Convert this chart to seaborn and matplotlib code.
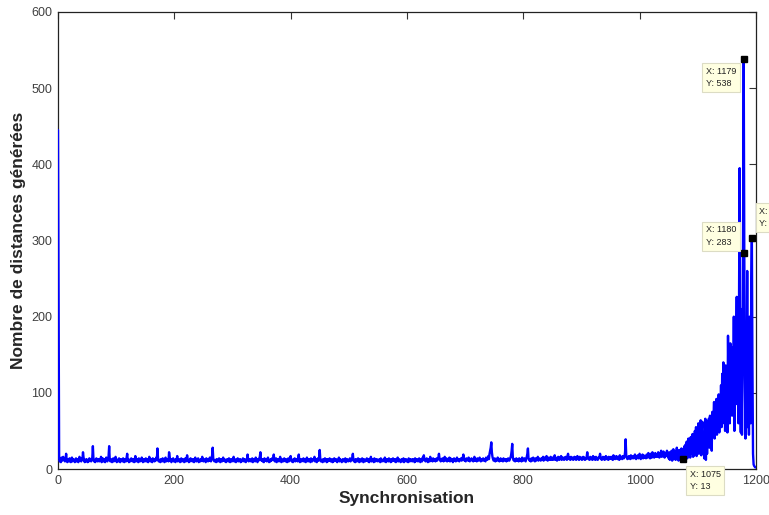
import numpy as np
import pandas as pd
import seaborn as sns
import matplotlib.pyplot as plt

sns.set_style("white")
plt.rcParams['font.family'] = ['Liberation Sans', 'DejaVu Sans']

# --- data ---
head = [445, 225, 14, 10, 12, 9, 15, 11, 13, 16]          # x = 0..9

baseline = [                                                # x = 10..1049
    13, 11, 10, 12, 20, 11, 9, 13, 12, 10, 14, 11, 9, 12, 15, 10, 13, 11, 12, 9,
    12, 14, 10, 11, 13, 9, 12, 16, 11, 13, 10, 14, 12, 22, 15, 11, 9, 12, 10, 13,
    11, 9, 12, 10, 14, 11, 13, 10, 12, 15, 30, 13, 10, 12, 9, 11, 14, 12, 10, 13,
    12, 10, 13, 11, 16, 9, 12, 14, 10, 11, 13, 9, 12, 15, 11, 10, 13, 17, 30, 12,
    10, 13, 11, 9, 12, 14, 10, 12, 11, 16, 13, 9, 11, 12, 10, 14, 12, 9, 13, 11,
    12, 10, 14, 11, 9, 13, 12, 10, 15, 20, 11, 13, 9, 12, 10, 11, 14, 12, 10, 13,
    11, 9, 12, 17, 10, 13, 11, 12, 9, 14, 12, 10, 13, 11, 15, 12, 9, 11, 13, 10,
    12, 14, 10, 11, 13, 9, 12, 16, 11, 10, 13, 12, 9, 14, 11, 12, 10, 13, 11, 15,
    12, 27, 14, 10, 12, 11, 9, 13, 12, 10, 14, 11, 12, 9, 13, 15, 10, 12, 11, 13,
    10, 22, 16, 11, 12, 9, 13, 11, 14, 10, 12, 11, 9, 13, 12, 17, 10, 11, 13, 12,
    9, 12, 14, 10, 11, 13, 12, 9, 11, 14, 10, 12, 18, 13, 11, 9, 12, 10, 14, 11,
    12, 10, 13, 11, 9, 12, 15, 11, 10, 13, 12, 14, 9, 11, 12, 10, 13, 11, 16, 12,
    10, 13, 11, 12, 9, 14, 11, 12, 10, 13, 11, 15, 12, 10, 14, 18, 28, 13, 11, 10,
    12, 11, 9, 13, 12, 10, 11, 14, 12, 9, 13, 11, 10, 12, 15, 11, 13, 10, 12, 9,
    11, 13, 12, 10, 14, 11, 9, 12, 13, 10, 11, 12, 16, 10, 13, 11, 9, 12, 11, 14,
    10, 12, 11, 13, 9, 12, 10, 11, 14, 12, 10, 13, 11, 9, 12, 13, 19, 11, 10, 12,
    13, 11, 10, 12, 14, 9, 11, 13, 12, 10, 15, 11, 12, 9, 13, 11, 14, 16, 22, 12,
    11, 13, 10, 12, 9, 14, 12, 11, 13, 10, 12, 15, 11, 9, 12, 10, 13, 11, 14, 12,
    13, 19, 11, 10, 12, 14, 9, 12, 11, 13, 10, 12, 16, 11, 9, 13, 12, 10, 11, 14,
    12, 10, 13, 11, 9, 12, 14, 10, 11, 13, 17, 12, 10, 11, 9, 13, 12, 14, 10, 11,
    13, 12, 10, 14, 19, 11, 9, 12, 13, 10, 11, 12, 14, 10, 13, 11, 9, 12, 15, 11,
    10, 12, 13, 11, 9, 14, 12, 10, 11, 13, 12, 16, 10, 11, 13, 9, 12, 14, 11, 15,
    25, 13, 10, 12, 11, 9, 13, 12, 10, 14, 11, 12, 9, 13, 10, 12, 11, 14, 12, 10,
    11, 13, 9, 12, 10, 14, 11, 12, 13, 10, 9, 12, 11, 15, 10, 13, 12, 11, 9, 12,
    13, 11, 10, 12, 14, 9, 11, 13, 12, 10, 12, 11, 14, 10, 13, 12, 15, 20, 11, 10,
    12, 9, 13, 11, 10, 12, 14, 11, 9, 13, 12, 10, 11, 14, 12, 9, 13, 11, 10, 12,
    11, 14, 12, 10, 13, 9, 12, 11, 16, 10, 12, 13, 11, 9, 14, 12, 10, 11, 13, 12,
    10, 12, 11, 13, 9, 14, 12, 10, 11, 12, 13, 10, 15, 11, 9, 12, 13, 11, 10, 14,
    12, 11, 9, 13, 10, 12, 14, 11, 12, 10, 13, 9, 11, 12, 15, 10, 13, 11, 12, 9,
    11, 13, 10, 12, 14, 9, 12, 11, 13, 10, 12, 11, 9, 14, 12, 10, 13, 11, 12, 10,
    13, 11, 12, 9, 14, 10, 12, 13, 11, 10, 12, 14, 11, 9, 13, 12, 10, 15, 12, 18,
    13, 11, 10, 12, 14, 11, 9, 13, 12, 10, 16, 12, 11, 13, 10, 14, 12, 11, 13, 10,
    12, 14, 11, 13, 15, 20, 14, 12, 10, 13, 11, 14, 12, 10, 13, 16, 11, 12, 14, 10,
    13, 11, 12, 15, 10, 14, 12, 11, 13, 9, 12, 14, 11, 13, 10, 12, 15, 11, 13, 12,
    10, 13, 12, 14, 11, 12, 15, 19, 13, 11, 12, 10, 14, 12, 13, 11, 15, 12, 10, 13,
    12, 14, 11, 13, 10, 12, 16, 11, 13, 12, 10, 14, 12, 11, 13, 15, 12, 10, 13, 11,
    12, 14, 11, 13, 12, 10, 15, 13, 12, 14, 17, 13, 20, 24, 28, 35, 22, 16, 13, 11,
    12, 14, 10, 13, 11, 12, 15, 11, 13, 10, 12, 14, 11, 13, 12, 10, 14, 12, 11, 13,
    12, 10, 13, 11, 14, 12, 11, 13, 15, 18, 24, 33, 16, 12, 11, 13, 10, 12, 14, 11,
    13, 12, 10, 14, 11, 12, 13, 10, 15, 12, 11, 13, 14, 12, 10, 13, 16, 20, 27, 14,
    12, 11, 13, 10, 14, 12, 11, 15, 13, 12, 10, 14, 11, 13, 12, 16, 11, 14, 12, 13,
    11, 14, 12, 13, 16, 11, 15, 12, 14, 13, 17, 12, 11, 15, 13, 12, 14, 16, 12, 13,
    15, 12, 14, 13, 18, 12, 15, 13, 11, 14, 16, 13, 12, 15, 14, 17, 12, 13, 15, 14,
    12, 15, 13, 16, 14, 12, 17, 20, 14, 13, 15, 12, 16, 14, 13, 15, 12, 14, 16, 13,
    15, 12, 14, 17, 13, 15, 12, 16, 14, 13, 15, 12, 14, 16, 13, 15, 12, 14, 13, 16,
    22, 15, 13, 14, 12, 16, 14, 13, 15, 12, 17, 14, 13, 15, 12, 16, 14, 13, 12, 15,
    14, 16, 20, 15, 13, 12, 14, 16, 13, 15, 12, 14, 17, 13, 15, 14, 12, 16, 13, 15,
    14, 16, 13, 15, 12, 18, 14, 16, 13, 15, 17, 14, 13, 16, 15, 12, 18, 14, 16, 15,
    13, 17, 15, 14, 16, 22, 39, 18, 15, 13, 16, 14, 17, 15, 13, 18, 16, 14, 15, 17,
    14, 16, 19, 15, 13, 17, 15, 18, 14, 16, 20, 15, 13, 17, 16, 19, 14, 18, 15, 17,
    16, 14, 19, 17, 15, 21, 16, 18, 14, 20, 17, 15, 22, 16, 19, 15, 18, 21, 16, 17,
    19, 16, 22, 17, 15, 20, 18, 24, 16, 19, 17, 23, 18, 15, 21, 19, 17, 24, 18, 20,
]

ramp = [                                                    # x = 1050..1199
    14, 22, 12, 19, 15, 24, 11, 17, 26, 13,
    16, 23, 12, 20, 28, 14, 19, 11, 25, 15,
    21, 12, 27, 16, 19, 13, 24, 30, 15, 32,
    17, 36, 14, 29, 40, 18, 33, 15, 42, 20,
    30, 46, 16, 38, 18, 50, 24, 55, 17, 45,
    22, 60, 20, 48, 30, 64, 18, 52, 62, 25,
    45, 14, 40, 66, 12, 58, 20, 62, 35, 66,
    28, 70, 38, 60, 24, 75, 45, 68, 88, 40,
    85, 50, 92, 45, 80, 60, 98, 48, 88, 70,
    110, 55, 125, 60, 140, 75, 118, 50, 136, 85,
    120, 48, 175, 95, 150, 60, 165, 110, 160, 70,
    155, 90, 200, 50, 185, 95, 150, 226, 85, 180,
    60, 240, 395, 110, 48, 210, 45, 130, 320, 538,
    283, 120, 40, 180, 90, 260, 55, 150, 45, 200,
    110, 60, 245, 303, 140, 20, 6, 4, 3, 2,
]

# data tips shown on the figure: x, text offset (points), alignment
tip_x = [1179, 1180, 1193, 1075]
tip_offsets = [(-5.5, -5.5), (-6, 4.7), (5.5, 7), (4.7, -7.6)]
tip_align = [('right', 'top'), ('right', 'bottom'), ('left', 'bottom'), ('left', 'top')]

df = pd.concat([
    pd.DataFrame({'sync': np.arange(len(head)), 'n': head}),
    pd.DataFrame({'sync': 10 + np.arange(len(baseline)), 'n': baseline}),
    pd.DataFrame({'sync': 1050 + np.arange(len(ramp)), 'n': ramp}),
], ignore_index=True)

fig = plt.figure(figsize=(7.69, 5.15), dpi=100)
ax = fig.add_axes([0.0754, 0.0893, 0.9076, 0.8874])

sns.lineplot(data=df, x='sync', y='n', ax=ax, color='#0000ff', linewidth=1.7,
             estimator=None, sort=False, zorder=3)

ax.set_xlim(0, 1200)
ax.set_ylim(0, 600)
ax.set_xticks(np.arange(0, 1201, 200))
ax.set_yticks(np.arange(0, 601, 100))
ax.tick_params(direction='in', length=5, width=0.8, top=True, right=True,
               labelsize=9, labelcolor='#404040', color='#333333', pad=4)
for s in ax.spines.values():
    s.set_color('#222222')
    s.set_linewidth(0.9)

ax.set_xlabel('Synchronisation', fontsize=12.5, fontweight='bold', labelpad=3)
ax.set_ylabel('Nombre de distances générées', fontsize=12.5, fontweight='bold', labelpad=4)

lookup = dict(zip(df['sync'], df['n']))
for xt, off, (ha, va) in zip(tip_x, tip_offsets, tip_align):
    yt = lookup[xt]
    ax.plot(xt, yt, marker='s', color='black', markersize=5, zorder=5, clip_on=False)
    ax.annotate(f'X: {xt}\nY: {yt}', xy=(xt, yt), xytext=off, textcoords='offset points',
                fontsize=6.5, color='#222222', ha=ha, va=va, multialignment='left',
                linespacing=1.5,
                bbox=dict(boxstyle='square,pad=0.4', fc='#ffffe1', ec='#dcdcc4', lw=0.8),
                annotation_clip=False, zorder=6)

fig.savefig('out.png', dpi=100)
